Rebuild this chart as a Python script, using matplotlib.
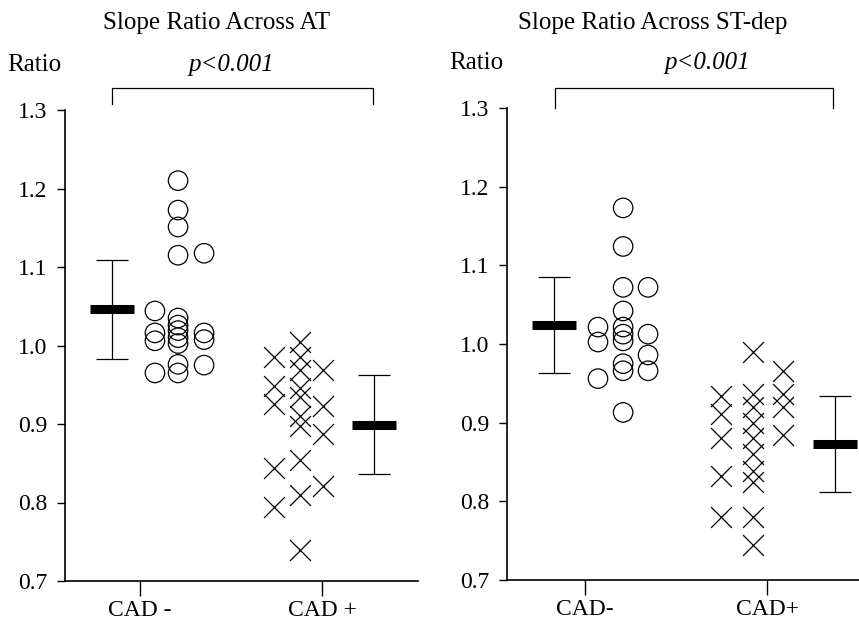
import numpy as np
import matplotlib.pyplot as plt

plt.rcParams['font.family'] = ['Liberation Serif', 'DejaVu Serif']

# ---- data: Slope Ratio Across AT ----
at_neg_cols = [
    [1.044, 1.016, 1.006, 0.965],
    [1.21, 1.1725, 1.151, 1.115, 1.035, 1.026, 1.019, 1.01, 1.0025, 0.976, 0.965],
    [1.1175, 1.016, 1.0075, 0.975],
]
at_pos_cols = [
    [0.985, 0.948, 0.925, 0.844, 0.794],
    [1.005, 0.985, 0.969, 0.946, 0.934, 0.91, 0.8975, 0.854, 0.809, 0.74],
    [0.969, 0.9225, 0.8875, 0.821],
]
at_mean = [1.046, 0.899]
at_sd = [0.063, 0.063]

# ---- data: Slope Ratio Across ST-dep ----
st_neg_cols = [
    [1.0215, 1.0025, 0.956],
    [1.173, 1.124, 1.072, 1.042, 1.0215, 1.0125, 1.004, 0.975, 0.966, 0.913],
    [1.072, 1.0125, 0.986, 0.966],
]
st_pos_cols = [
    [0.934, 0.911, 0.88, 0.832, 0.78],
    [0.99, 0.937, 0.92, 0.9, 0.88, 0.86, 0.838, 0.825, 0.78, 0.745],
    [0.966, 0.937, 0.92, 0.884],
]
st_mean = [1.024, 0.873]
st_sd = [0.061, 0.061]

titles = ['Slope Ratio Across AT', 'Slope Ratio Across ST-dep']
xlabels = [['CAD -', 'CAD +'], ['CAD-', 'CAD+']]
yticks = [0.7, 0.8, 0.9, 1.0, 1.1, 1.2, 1.3]

W, H = 859, 625
fig = plt.figure(figsize=(W / 100, H / 100), dpi=100)


def px_axes(x0, x1, ytop, ybot):
    return fig.add_axes([x0 / W, 1 - ybot / H, (x1 - x0) / W, (ybot - ytop) / H])


def panel(ax, neg_cols, pos_cols, mean, sd, neg_off, pos_off, err_off, xlim,
          labels, bracket, bracket_y, ptext_x):
    for off, vals in zip(neg_off, neg_cols):
        ax.scatter(np.full(len(vals), 1 + off), vals, s=14 ** 2, facecolors='none',
                   edgecolors='black', linewidths=0.9, zorder=3)
    for off, vals in zip(pos_off, pos_cols):
        ax.scatter(np.full(len(vals), 2 + off), vals, s=15 ** 2, marker='x',
                   color='black', linewidths=0.9, zorder=3)
    for i in range(2):
        x = i + 1 + err_off[i]
        ax.errorbar(x, mean[i], yerr=sd[i], fmt='none', ecolor='black',
                    elinewidth=0.9, capsize=11.5, capthick=0.9)
        ax.plot([x], [mean[i]], marker='_', markersize=31, mew=6.5, color='black')

    ax.set_xlim(*xlim)
    ax.set_ylim(0.7, 1.3)
    ax.set_yticks(yticks)
    ax.set_yticklabels([f'{v:.1f}' for v in yticks])
    ax.set_xticks([1, 2])
    ax.set_xticklabels(labels)
    for s in ['top', 'right']:
        ax.spines[s].set_visible(False)
    for s in ['left', 'bottom']:
        ax.spines[s].set_linewidth(1.2)
    ax.tick_params(axis='y', direction='out', length=6, width=1, pad=7, labelsize=17)
    ax.tick_params(axis='x', direction='out', length=11, width=1, pad=3, labelsize=17)

    # bracket and significance
    bx0, bx1 = bracket
    top, low = bracket_y
    ax.plot([bx0, bx0, bx1, bx1], [low, top, top, low], color='black', lw=0.9,
            clip_on=False)
    ax.text(ptext_x, 1.357, 'p<0.001', style='italic', fontsize=18,
            ha='center', va='center')
    ax.text(-0.165, 1.357, 'Ratio', transform=ax.get_yaxis_transform(), fontsize=18,
            ha='left', va='center')


ax1 = px_axes(65, 418, 110, 581)
panel(ax1, at_neg_cols, at_pos_cols, at_mean, at_sd,
      neg_off=[0.082, 0.209, 0.352], pos_off=[-0.264, -0.121, 0.006],
      err_off=[-0.154, 0.286], xlim=(0.588, 2.527),
      labels=xlabels[0], bracket=(0.846, 2.28), bracket_y=(1.328, 1.308),
      ptext_x=1.5)
fig.text(217 / W, 1 - 23 / H, titles[0], fontsize=18, ha='center', va='center')

ax2 = px_axes(507, 859, 108, 580)
panel(ax2, st_neg_cols, st_pos_cols, st_mean, st_sd,
      neg_off=[0.071, 0.209, 0.346], pos_off=[-0.253, -0.077, 0.088],
      err_off=[-0.17, 0.374], xlim=(0.571, 2.505),
      labels=xlabels[1], bracket=(0.835, 2.363), bracket_y=(1.326, 1.3),
      ptext_x=1.67)
fig.text(653 / W, 1 - 23 / H, titles[1], fontsize=18, ha='center', va='center')

fig.savefig('out.png', dpi=100)
